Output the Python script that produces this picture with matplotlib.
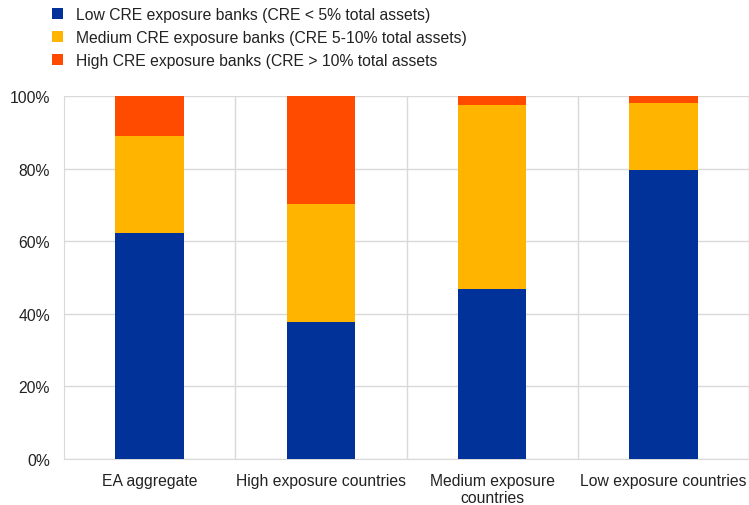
import matplotlib
matplotlib.use("Agg")
import matplotlib.pyplot as plt
from matplotlib.ticker import PercentFormatter

categories = ["EA aggregate", "High exposure countries", "Medium exposure\ncountries", "Low exposure countries"]
low = [62.3, 37.7, 46.8, 79.7]
medium = [26.7, 32.5, 50.8, 18.5]
high = [11.0, 29.8, 2.4, 1.8]
series_labels = ["Low CRE exposure banks (CRE < 5% total assets)",
                 "Medium CRE exposure banks (CRE 5-10% total assets)",
                 "High CRE exposure banks (CRE > 10% total assets"]
colors = ["#003299", "#FFB400", "#FF4B00"]

plt.rcParams['font.family'] = ['Liberation Sans', 'DejaVu Sans']
fs = 11.3
fig = plt.figure(figsize=(7.49, 5.06), dpi=100)
ax = fig.add_axes([64/749, 1-460/506, (749-64)/749, (460-97)/506])

x = range(len(categories))
bottom = [0]*4
handles = []
for vals, c, lab in zip([low, medium, high], colors, series_labels):
    b = ax.bar(x, vals, width=0.4, bottom=bottom, color=c, label=lab, zorder=3)
    handles.append(b)
    bottom = [bo + v for bo, v in zip(bottom, vals)]

ax.set_ylim(0, 100)
ax.set_xlim(-0.5, 3.5)
ax.set_yticks([0, 20, 40, 60, 80, 100])
ax.yaxis.set_major_formatter(PercentFormatter(decimals=0))
ax.set_xticks(list(x))
ax.set_xticklabels(categories, fontsize=fs, color="#222222", linespacing=1.15)
ax.tick_params(axis='y', labelsize=fs, length=0, pad=10, labelcolor="#222222")
ax.tick_params(axis='x', length=0, pad=10)
ax.set_xticks([0.5, 1.5, 2.5, 3.5], minor=True)
ax.tick_params(axis='x', which='minor', length=0)
ax.grid(axis='y', color="#d9d9d9", linewidth=1, zorder=0)
ax.grid(axis='x', which='minor', color="#d9d9d9", linewidth=1, zorder=0)
ax.grid(axis='x', which='major', visible=False)
for s in ['top', 'right']:
    ax.spines[s].set_visible(False)
ax.spines['left'].set_color("#d9d9d9")
ax.spines['bottom'].set_color("#d9d9d9")

fig.legend(handles=handles, labels=series_labels, loc='upper left',
           bbox_to_anchor=(46/749, 1-2/506), frameon=False, fontsize=fs,
           handlelength=0.7, handleheight=0.7, handletextpad=0.8,
           labelspacing=0.5, borderaxespad=0, labelcolor="#222222")

fig.savefig("out.png", dpi=100)
